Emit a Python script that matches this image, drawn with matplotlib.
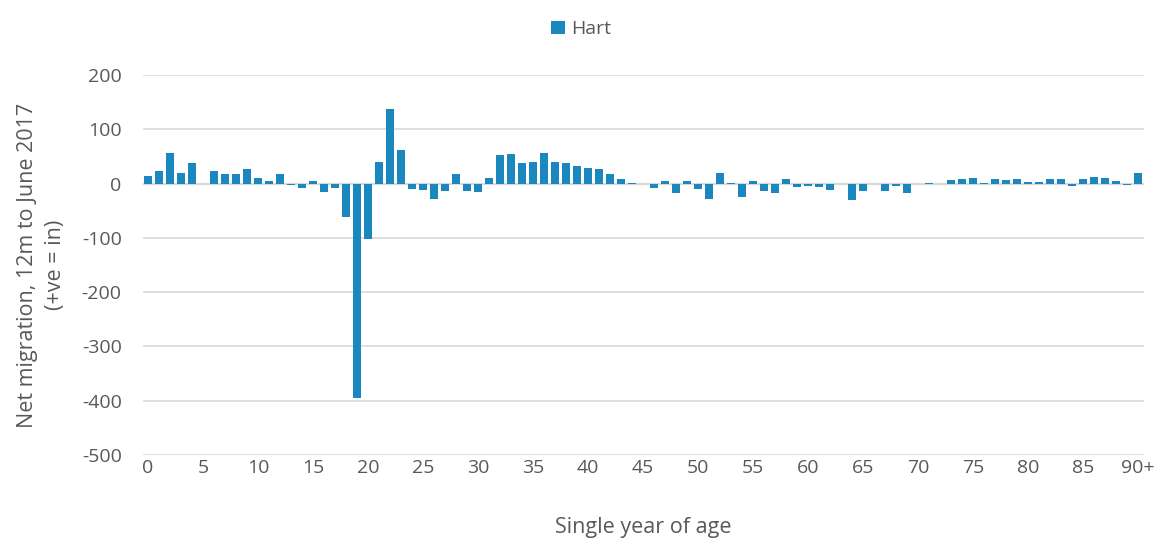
import matplotlib
matplotlib.use("Agg")
import matplotlib.pyplot as plt
import numpy as np

# net migration by single year of age, Hart, 12m to June 2017
ages = [str(a) for a in range(90)] + ["90+"]
net_migration = [
    14, 23, 56, 20, 37, 0, 23, 17, 17, 27,
    10, 4, 18, -3, -9, 5, -16, -8, -61, -395,
    -102, 40, 138, 61, -10, -11, -28, -13, 18, -13,
    -16, 10, 53, 54, 37, 39, 57, 39, 37, 32,
    28, 27, 18, 8, 1, 0, -9, 4, -17, 4,
    -10, -28, 20, 1, -25, 4, -14, -18, 9, -7,
    -5, -7, -11, 0, -31, -14, 0, -13, -4, -18,
    0, 1, 0, 7, 8, 10, 1, 8, 6, 8,
    3, 3, 8, 8, -4, 8, 13, 10, 4, -2,
    19,
]
tick_every = 5

bar_color = "#1A87BF"
text_color = "#595959"
grid_color = "#D9D9D9"

plt.rcParams["font.family"] = ["Open Sans", "DejaVu Sans"]
plt.rcParams["axes.unicode_minus"] = False

fig = plt.figure(figsize=(11.62, 5.38), dpi=100)
ax = fig.add_axes([142.5 / 1162, 1 - 455 / 538, 1001 / 1162, 380 / 538])

x = np.arange(len(ages))
ax.bar(x, net_migration, width=0.65, color=bar_color, linewidth=0,
       label="Hart", zorder=3)

ax.set_xlim(-0.5, len(ages) - 0.5)
ax.set_ylim(-500, 200)
ax.set_yticks(range(-500, 201, 100))
ax.yaxis.grid(True, color=grid_color, linewidth=1.2, zorder=0)
ax.axhline(0, color=grid_color, linewidth=1.5, zorder=2)

ticks = list(range(0, len(ages), tick_every))
ax.set_xticks(ticks)
ax.set_xticklabels([ages[i] for i in ticks])
ax.tick_params(axis="x", length=0, pad=3, labelsize=14, labelcolor=text_color)
ax.tick_params(axis="y", length=0, pad=15, labelsize=14, labelcolor=text_color)
for s in ax.spines.values():
    s.set_visible(False)

ax.set_xlabel("Single year of age", fontsize=15.5, color=text_color)
ax.xaxis.set_label_coords(0.5, -0.163)
ax.set_ylabel("Net migration, 12m to June 2017\n(+ve = in)", fontsize=15.5,
              color=text_color, linespacing=1.45)
ax.yaxis.set_label_coords(-0.101, 0.5)
ax.yaxis.label.set_va("center")

fig.legend(loc="upper center", bbox_to_anchor=(0.5, 0.995), frameon=False,
           fontsize=14, labelcolor=text_color, handlelength=0.7,
           handleheight=0.7, handletextpad=0.3)

fig.savefig("out.png", dpi=100)
